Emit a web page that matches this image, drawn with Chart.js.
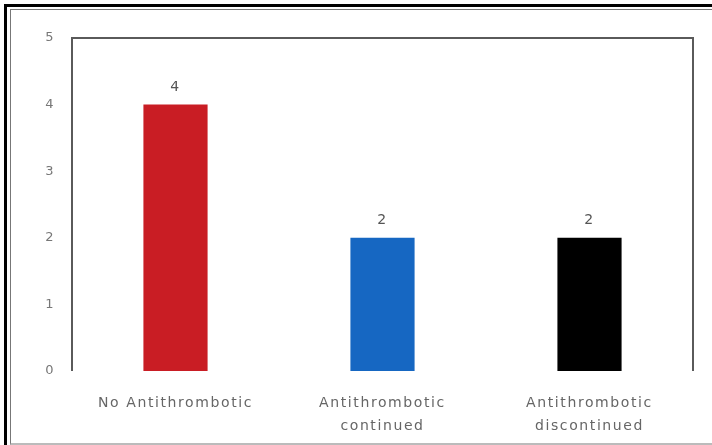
<!DOCTYPE html>
<html>
<head>
<meta charset="utf-8">
<script src="https://cdn.jsdelivr.net/npm/chart.js@4/dist/chart.umd.min.js"></script>
<style>
  html, body { margin: 0; padding: 0; background: #fff; }
  #wrap { position: relative; width: 712px; height: 445px; overflow: hidden; }
  canvas { position: absolute; left: 0; top: 0; }
  .b1 { position: absolute; left: 4px; top: 4px; width: 800px; height: 800px; border-left: 3px solid #000; border-top: 3px solid #000; pointer-events: none; }
  .b2 { position: absolute; left: 10px; top: 9px; width: 800px; height: 433px; border-left: 1px solid #777; border-top: 1px solid #777; border-bottom: 2px solid #bbb; pointer-events: none; }
</style>
</head>
<body>
<div id="wrap">
  <canvas id="c" width="712" height="445"></canvas>
  <div class="b1"></div>
  <div class="b2"></div>
</div>
<script>
const categories = [["No Antithrombotic"], ["Antithrombotic", "continued"], ["Antithrombotic", "discontinued"]];
const values = [4, 2, 2];
const barColors = ["#c91d24", "#1667c2", "#000000"];
const yTicks = [0, 1, 2, 3, 4, 5];

const spacingPlugin = {
  id: 'spacing',
  beforeDraw(chart) { chart.ctx.letterSpacing = '1.6px'; }
};

const framePlugin = {
  id: 'frame',
  afterDraw(chart) {
    const { ctx, chartArea: a } = chart;
    ctx.save();
    ctx.strokeStyle = '#5a5a5a';
    ctx.lineWidth = 2;
    ctx.beginPath();
    ctx.moveTo(a.left, a.bottom);
    ctx.lineTo(a.left, a.top);
    ctx.lineTo(a.right, a.top);
    ctx.lineTo(a.right, a.bottom);
    ctx.stroke();
    ctx.restore();
  }
};

const valueLabels = {
  id: 'valueLabels',
  afterDatasetsDraw(chart) {
    const { ctx } = chart;
    ctx.save();
    ctx.font = '14px "DejaVu Sans"';
    ctx.fillStyle = '#555';
    ctx.textAlign = 'center';
    ctx.textBaseline = 'middle';
    chart.getDatasetMeta(0).data.forEach((bar, i) => {
      ctx.fillText(String(values[i]), bar.x, bar.y - 17);
    });
    ctx.restore();
  }
};

new Chart(document.getElementById('c'), {
  type: 'bar',
  data: {
    labels: categories,
    datasets: [{
      data: values,
      backgroundColor: barColors,
      borderWidth: 0,
      barPercentage: 0.31,
      categoryPercentage: 1
    }]
  },
  options: {
    responsive: false,
    animation: false,
    events: [],
    layout: { padding: { left: 0, top: 38, right: 19, bottom: 0 } },
    plugins: { legend: { display: false }, tooltip: { enabled: false } },
    scales: {
      x: {
        grid: { display: false },
        border: { display: false },
        ticks: {
          color: '#666',
          font: { family: 'DejaVu Sans', size: 14, lineHeight: 1.64 },
          padding: 13,
          maxRotation: 0,
          autoSkip: false
        },
        afterFit(s) { s.height = 74; }
      },
      y: {
        min: 0,
        max: 5,
        grid: { display: false },
        border: { display: false },
        afterBuildTicks(s) { s.ticks = yTicks.map(v => ({ value: v })); },
        ticks: {
          color: '#777',
          font: { family: 'DejaVu Sans', size: 13 },
          padding: 9
        },
        afterFit(s) { s.width = 72; }
      }
    }
  },
  plugins: [spacingPlugin, framePlugin, valueLabels]
});
</script>
</body>
</html>
